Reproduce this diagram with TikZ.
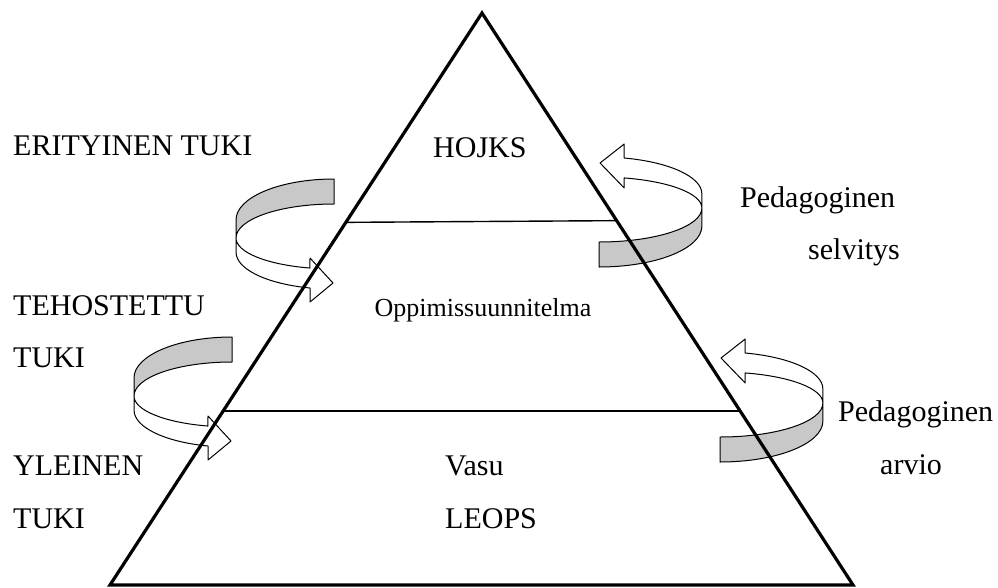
\documentclass[tikz,border=0pt]{standalone}
\usepackage{fontspec}
\setmainfont{Liberation Serif}
\usetikzlibrary{calc}
\definecolor{bandgray}{RGB}{200,200,200}
\tikzset{
  lbl/.style={anchor=base west, inner sep=0pt, font=\fontsize{30}{36}\selectfont},
  tri/.style={line width=3.2pt, line join=miter},
  level/.style={line width=1.4pt},
  band/.style={draw=black, line width=1pt, line join=round},
  curvarrow/.pic={
    \filldraw[band, fill=bandgray] (0,0)
      arc[start angle=270, end angle=180, x radius=98, y radius=41]
      -- (-98,59)
      arc[start angle=180, end angle=270, x radius=98, y radius=34]
      -- cycle;
    \filldraw[band, fill=white] (-98,59)
      arc[start angle=180, end angle=104.2, x radius=98, y radius=31]
      -- (-24,79) -- (-1,104) -- (-24,123) -- (-24,109)
      arc[start angle=104.2, end angle=180, x radius=98, y radius=37]
      -- cycle;
  }
}
\begin{document}
\begin{tikzpicture}[x=1pt,y=-1pt]
\useasboundingbox (0,0) rectangle (998,587);
% curved arrows
\pic (la1) at (334,179) {curvarrow};
\pic (la2) at (232,337) {curvarrow};
\pic (ra1) [rotate=180, xscale=1.05] at (599,267) {curvarrow};
\pic (ra2) [rotate=180, xscale=1.05] at (720,462) {curvarrow};
% triangle
\coordinate (apex) at (482,13);
\coordinate (bl) at (110,585);
\coordinate (br) at (853,585);
\draw[tri] (apex) -- (bl) -- (br) -- cycle;
\coordinate (t1l) at ($(apex)!0.366!(bl)$);
\coordinate (t1r) at ($(apex)!0.363!(br)$);
\coordinate (t2l) at ($(apex)!0.696!(bl)$);
\coordinate (t2r) at ($(apex)!0.696!(br)$);
\draw[level] (t1l) -- (t1r);
\draw[level] (t2l) -- (t2r);
% labels
\node[lbl] (l1) at (13,155) {ERITYINEN TUKI};
\node[lbl] (l2) at (13,315) {TEHOSTETTU};
\node[lbl] (l3) at (13,367) {TUKI};
\node[lbl] (l4) at (13,475) {YLEINEN};
\node[lbl] (l5) at (13,528) {TUKI};
\node[lbl] (m1) at (433,157) {HOJKS};
\node[lbl, anchor=base, font=\fontsize{26}{31}\selectfont] (m2) at (483,316) {Oppimissuunnitelma};
\node[lbl] (m3) at (445,475) {Vasu};
\node[lbl] (m4) at (445,528) {LEOPS};
\node[lbl] (r1) at (740,207) {Pedagoginen};
\node[lbl] (r2) at (808,259) {selvitys};
\node[lbl] (r3) at (838,421) {Pedagoginen};
\node[lbl] (r4) at (880,474) {arvio};
\end{tikzpicture}
\end{document}
